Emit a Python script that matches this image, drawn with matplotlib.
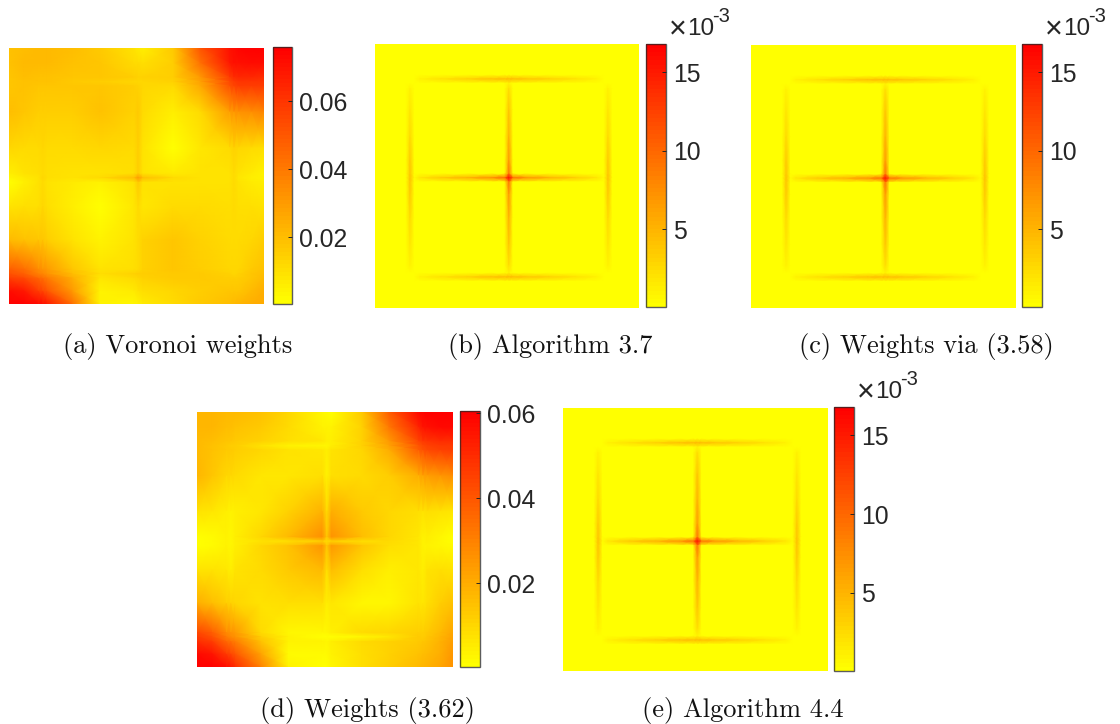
import matplotlib
matplotlib.use("Agg")
import matplotlib.pyplot as plt
import numpy as np

W, H = 1120, 724
TXT = "#262626"

captions = ["(a) Voronoi weights", "(b) Algorithm 3.7", "(c) Weights via (3.58)",
            "(d) Weights (3.62)", "(e) Algorithm 4.4"]

# sample positions for the two smooth panels (fractions of the image side)
xs_smooth = [0, .06, .115, .132, .15, .25, .357, .49, .507, .525, .644, .75, .865, .882, .90, .95, 1]
ys_smooth = [0, .06, .115, .132, .15, .25, .39, .49, .507, .525, .62, .75, .865, .882, .90, .95, 1]

# values x 1e-3, first row is the top of the image
voronoi = [
    [19, 20, 21, 21, 21, 20, 16, 9, 7, 6, 16, 50, 70, 72, 74, 75, 75],
    [19, 21, 21, 21, 21, 19, 17, 12, 11, 10, 15, 42, 68, 70, 71, 72, 72],
    [18, 20, 19, 19, 19, 18, 17, 15, 14, 14, 15, 30, 58, 62, 63, 63, 62],
    [18, 19, 19, 19, 19, 16, 15, 13, 13, 13, 14, 28, 54, 58, 60, 60, 60],
    [18, 19, 18, 18, 18, 18, 17, 15, 14, 13, 12, 26, 52, 55, 57, 58, 58],
    [20, 17, 15, 15, 15, 15, 19, 14, 16, 11, 6, 12, 29, 32, 33, 34, 36],
    [13, 12, 12, 13, 12, 11, 13, 12, 15, 9, 1, 8, 12, 14, 13, 11, 10],
    [6, 9, 10, 12, 10, 9, 9, 10, 15, 9, 7, 9, 9, 11, 9, 7, 5],
    [3, 7, 9, 13, 10, 9, 12, 20, 30, 20, 12, 9, 9, 12, 8, 6, 5],
    [1, 6, 9, 12, 9, 7, 5, 9, 16, 9, 9, 9, 9, 11, 9, 7, 6],
    [9, 10, 10, 13, 10, 6, 0, 8, 12, 8, 11, 11, 10, 11, 10, 10, 9],
    [21, 19, 17, 18, 15, 9, 5, 9, 12, 14, 17, 14, 11, 12, 12, 13, 15],
    [48, 44, 35, 33, 31, 18, 9, 10, 12, 14, 17, 15, 13, 13, 13, 16, 19],
    [52, 47, 38, 36, 33, 20, 10, 14, 15, 15, 16, 16, 14, 13, 14, 17, 20],
    [58, 54, 46, 44, 40, 24, 8, 12, 13, 14, 16, 16, 15, 15, 15, 18, 21],
    [72, 68, 58, 55, 50, 30, 5, 7, 9, 10, 13, 15, 17, 18, 18, 21, 24],
    [75, 75, 73, 72, 68, 42, 4, 3, 5, 7, 12, 16, 20, 21, 22, 24, 26],
]

weights_362 = [
    [18, 18, 17, 17, 17, 15, 10, 3, 2, 1, 13, 38, 58, 59, 60, 60, 60],
    [18, 18, 16, 16, 15, 13, 9, 4, 4, 4, 11, 32, 52, 55, 56, 58, 58],
    [17, 16, 14, 14, 13, 11, 8, 6, 5, 5, 11, 24, 44, 47, 48, 50, 50],
    [17, 15, 13, 12, 12, 7, 4, 3, 3, 5, 11, 22, 40, 43, 45, 47, 47],
    [17, 15, 13, 13, 12, 10, 7, 6, 5, 7, 10, 20, 38, 41, 43, 45, 46],
    [18, 14, 10, 10, 9, 6, 6, 8, 4, 8, 9, 12, 20, 22, 23, 25, 27],
    [7, 6, 5, 4, 5, 6, 11, 19, 9, 20, 13, 10, 8, 7, 8, 7, 6],
    [1, 2, 4, 3, 5, 10, 17, 27, 14, 26, 16, 10, 6, 4, 5, 3, 1],
    [1, 2, 4, 3, 5, 7, 8, 12, 8, 11, 8, 9, 6, 4, 5, 3, 1],
    [1, 2, 4, 3, 5, 10, 15, 25, 14, 24, 14, 8, 6, 4, 4, 3, 2],
    [7, 7, 6, 5, 7, 9, 13, 17, 8, 16, 8, 5, 6, 5, 7, 8, 7],
    [20, 16, 12, 11, 10, 7, 8, 8, 5, 6, 3, 3, 7, 6, 8, 12, 15],
    [44, 38, 28, 26, 24, 9, 3, 3, 3, 5, 9, 10, 12, 12, 13, 17, 21],
    [47, 41, 31, 28, 26, 12, 4, 1, 1, 1, 3, 6, 13, 12, 14, 18, 22],
    [50, 46, 36, 34, 31, 15, 4, 4, 3, 5, 9, 11, 13, 14, 15, 19, 23],
    [58, 55, 47, 44, 40, 22, 2, 2, 2, 4, 8, 11, 15, 16, 17, 20, 25],
    [60, 60, 57, 54, 50, 30, 4, 1, 1, 3, 8, 12, 17, 18, 19, 21, 26],
]

# cross panels (b, c, e): flat background plus values along each thin line
line_pos = [0, .117, .133, .149, .17, .25, .35, .44, .491, .507, .523, .57, .66, .76, .84, .867, .883, .899, 1]
background = 0.1
mid_horizontal = [.1, .2, 4.0, .5, 1.8, 3.6, 5.2, 7.2, 9.5, 16.8, 9.5, 7.2, 5.2, 3.4, 1.8, .5, 4.0, .2, .1]
mid_vertical = [.1, .2, 4.6, .9, 2.2, 3.8, 5.2, 6.8, 9.0, 16.8, 9.0, 6.8, 5.2, 3.8, 2.2, .9, 4.6, .2, .1]
top_line = [.1, .1, .1, .2, .9, 2.0, 3.0, 4.0, 4.4, 4.6, 4.4, 3.8, 3.0, 2.0, .9, .2, .1, .1, .1]
bottom_line = [.1, .1, .1, .2, .9, 2.0, 3.0, 4.0, 4.4, 4.6, 4.4, 3.8, 3.0, 2.0, .9, .2, .1, .1, .1]
left_line = [.1, .1, .1, .3, .9, 1.8, 2.6, 3.5, 3.9, 4.0, 3.9, 3.5, 2.6, 1.8, .9, .3, .1, .1, .1]
right_line = [.1, .1, .1, .3, .9, 1.8, 2.6, 3.5, 3.9, 4.0, 3.9, 3.5, 2.6, 1.8, .9, .3, .1, .1, .1]


def cross_table():
    z = np.full((len(line_pos), len(line_pos)), background)
    z[2, :] = top_line
    z[16, :] = bottom_line
    z[:, 2] = left_line
    z[:, 16] = right_line
    z[9, :] = mid_horizontal
    z[:, 9] = mid_vertical
    return z


def box(x0, y0, x1, y1):
    return [x0 / W, 1 - y1 / H, (x1 - x0) / W, (y1 - y0) / H]


def panel(fig, img_box, bar_box, xs, ys, z, vmin, vmax, ticks, fmt=None):
    ax = fig.add_axes(box(*img_box))
    xx, yy = np.meshgrid(xs, ys)
    mesh = ax.pcolormesh(xx, yy, z, shading="gouraud", cmap=cmap, vmin=vmin, vmax=vmax)
    ax.set_xlim(0, 1)
    ax.set_ylim(1, 0)
    ax.axis("off")

    cax = fig.add_axes(box(*bar_box))
    cb = fig.colorbar(mesh, cax=cax, ticks=ticks, format=fmt)
    cb.outline.set_edgecolor((0.15, 0.15, 0.15, 0.75))
    cb.outline.set_linewidth(1.0)
    cax.tick_params(direction="in", length=3, width=0.7, color=TXT, labelcolor=TXT,
                    labelsize=17.8, pad=5)
    return cax


def power_label(fig, x, y):
    fig.text(x / W, 1 - (y + 3) / H, "\u00d7", fontsize=22, color=TXT, ha="left", va="baseline")
    fig.text((x + 18) / W, 1 - y / H, "10", fontsize=17.5, color=TXT, ha="left", va="baseline")
    fig.text((x + 43) / W, 1 - (y - 13) / H, "-3", fontsize=14.5, color=TXT, ha="left", va="baseline")


plt.rcParams["font.family"] = ["Liberation Sans", "DejaVu Sans"]
cmap = plt.get_cmap("autumn_r", 64)

fig = plt.figure(figsize=(W / 100, H / 100), dpi=100)

voronoi_z = np.array(voronoi) / 1000
weights_z = np.array(weights_362) / 1000
cross_z = cross_table()

panel(fig, (9, 48, 264, 304), (273, 47, 292, 304), xs_smooth, ys_smooth, voronoi_z,
      0.0003, 0.0759, [0.02, 0.04, 0.06], "%.2f")
panel(fig, (375, 44, 639, 308), (646, 44, 666, 307), line_pos, line_pos, cross_z,
      0.05, 16.8, [5, 10, 15], "%d")
panel(fig, (751, 45, 1016, 308), (1022, 44, 1042, 307), line_pos, line_pos, cross_z,
      0.05, 16.8, [5, 10, 15], "%d")
panel(fig, (197, 412, 453, 667), (460, 411, 480, 667), xs_smooth, ys_smooth, weights_z,
      0.0003, 0.0605, [0.02, 0.04, 0.06], "%.2f")
panel(fig, (563, 408, 828, 671), (834, 407, 854, 671), line_pos, line_pos, cross_z,
      0.05, 16.8, [5, 10, 15], "%d")

power_label(fig, 669, 35)
power_label(fig, 1045, 35)
power_label(fig, 857, 398)

caption_pos = [(178, 346), (550, 346), (926, 346), (367, 710), (743, 710)]
for (cx, cy), cap in zip(caption_pos, captions):
    fig.text(cx / W, 1 - cy / H, cap, family="cmr10", fontsize=19, color="#111111",
             ha="center", va="center")

fig.savefig("out.png", dpi=100)
